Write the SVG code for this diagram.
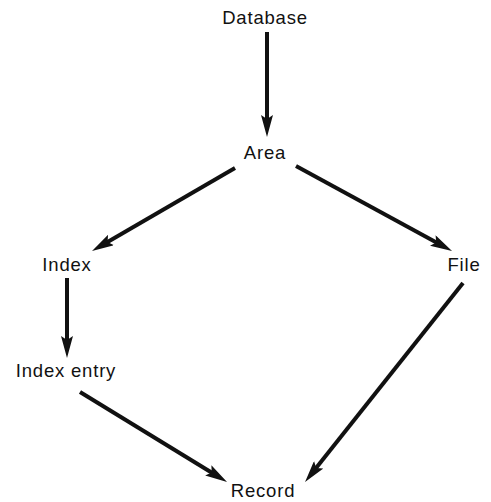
<svg xmlns="http://www.w3.org/2000/svg" width="491" height="502" viewBox="0 0 491 502">
<style>
text{font-family:"Liberation Sans",Arial,sans-serif;font-size:18.5px;letter-spacing:0.8px;fill:#111;text-anchor:middle}
.c line{stroke:#111;stroke-width:4;marker-end:url(#ah)}
</style>
<defs>
<marker id="ah" markerUnits="userSpaceOnUse" viewBox="0 0 22 12" markerWidth="22" markerHeight="12" refX="10" refY="6" orient="auto">
<path d="M0,0 L22,6 L0,12 L4,6 z" fill="#111"/>
</marker>
</defs>
<rect width="491" height="502" fill="#fff"/>
<g class="c" id="connectors">
<line x1="267" y1="32" x2="267" y2="125"/>
<line x1="235" y1="168" x2="102.4" y2="245"/>
<line x1="296" y1="166" x2="441.5" y2="245.3"/>
<line x1="67" y1="278" x2="67" y2="346"/>
<line x1="80" y1="392" x2="216.8" y2="475.7"/>
<line x1="463" y1="283" x2="312.5" y2="472.6"/>
</g>
<g id="database"><text x="265" y="24">Database</text></g>
<g id="area"><text x="265" y="159">Area</text></g>
<g id="index"><text x="67" y="271">Index</text></g>
<g id="file"><text x="464" y="271">File</text></g>
<g id="indexentry"><text x="66" y="377">Index entry</text></g>
<g id="record"><text x="263" y="497">Record</text></g>
</svg>
